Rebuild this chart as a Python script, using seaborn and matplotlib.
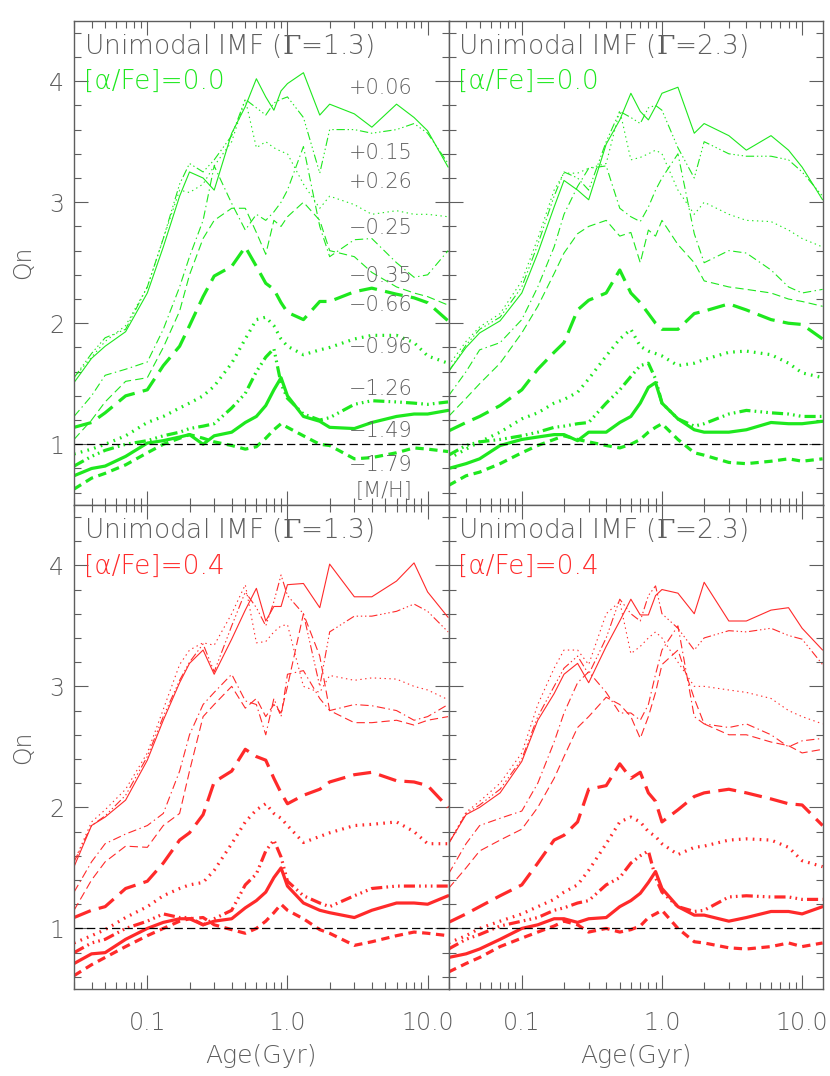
import os
import matplotlib
matplotlib.use('Agg')
import numpy as np
import seaborn as sns
import matplotlib.pyplot as plt
from matplotlib import font_manager as fm
from matplotlib.ticker import FixedLocator, NullFormatter

ages = [0.03, 0.04, 0.05, 0.07, 0.1, 0.13, 0.17, 0.2, 0.25, 0.3, 0.4, 0.5, 0.6,
        0.7, 0.8, 0.9, 1.0, 1.3, 1.7, 2.0, 3.0, 4.0, 6.0, 8.0, 10.0, 14.0]

mh_labels = ['+0.06', '+0.15', '+0.26', '\u22120.25', '\u22120.35',
             '\u22120.66', '\u22120.96', '\u22121.26', '\u22121.49', '\u22121.79']
mh_label_y = [3.94, 3.41, 3.17, 2.79, 2.39, 2.15, 1.80, 1.46, 1.11, 0.83]

gammas = ['1.3', '2.3']
alphafe = ['0.0', '0.4']

# Qn, Gamma=1.3, [a/Fe]=0.0  (one row per metallicity track)
qn_g13_a00 = [
    [1.51, 1.71, 1.81, 1.93, 2.25, 2.63, 3.05, 3.25, 3.20, 3.10, 3.57, 3.79, 4.02, 3.87, 3.76, 3.92, 3.98, 4.07, 3.72, 3.81, 3.73, 3.62, 3.81, 3.70, 3.59, 3.29],
    [1.55, 1.75, 1.88, 1.95, 2.30, 2.70, 3.15, 3.32, 3.25, 3.35, 3.55, 3.85, 3.78, 3.72, 3.82, 3.85, 3.87, 3.70, 3.24, 3.60, 3.60, 3.57, 3.60, 3.65, 3.57, 3.32],
    [1.55, 1.72, 1.85, 1.98, 2.30, 2.70, 3.10, 3.08, 3.15, 3.30, 3.50, 3.85, 3.45, 3.50, 3.45, 3.42, 3.40, 3.15, 2.95, 3.05, 2.98, 2.90, 2.93, 2.90, 2.90, 2.88],
    [1.23, 1.40, 1.57, 1.62, 1.68, 1.95, 2.30, 2.55, 2.85, 3.30, 2.99, 2.77, 2.90, 2.85, 2.92, 3.00, 3.10, 3.46, 2.80, 2.55, 2.69, 2.70, 2.50, 2.38, 2.40, 2.60],
    [1.04, 1.20, 1.35, 1.52, 1.55, 1.80, 2.10, 2.40, 2.70, 2.85, 2.95, 2.95, 2.75, 2.57, 2.85, 2.80, 2.88, 3.00, 2.85, 2.60, 2.55, 2.42, 2.30, 2.25, 2.22, 2.15],
    [1.14, 1.18, 1.26, 1.40, 1.45, 1.65, 1.81, 1.98, 2.22, 2.39, 2.47, 2.63, 2.47, 2.33, 2.28, 2.17, 2.09, 2.03, 2.18, 2.18, 2.26, 2.29, 2.24, 2.21, 2.17, 2.02],
    [0.92, 0.96, 1.00, 1.07, 1.18, 1.23, 1.30, 1.34, 1.40, 1.48, 1.67, 1.87, 2.03, 2.05, 1.98, 1.87, 1.81, 1.74, 1.78, 1.80, 1.87, 1.90, 1.90, 1.84, 1.73, 1.67],
    [0.82, 0.90, 0.95, 1.00, 1.03, 1.07, 1.10, 1.13, 1.15, 1.17, 1.30, 1.42, 1.60, 1.72, 1.79, 1.50, 1.38, 1.25, 1.20, 1.22, 1.33, 1.36, 1.35, 1.34, 1.33, 1.35],
    [0.74, 0.80, 0.82, 0.90, 1.01, 1.03, 1.06, 1.08, 1.00, 1.07, 1.10, 1.18, 1.23, 1.32, 1.45, 1.55, 1.40, 1.23, 1.19, 1.14, 1.13, 1.18, 1.23, 1.25, 1.25, 1.28],
    [0.63, 0.72, 0.76, 0.83, 0.93, 1.00, 1.05, 1.08, 1.05, 1.02, 0.99, 0.96, 0.98, 1.05, 1.12, 1.17, 1.14, 1.07, 1.00, 0.99, 0.88, 0.89, 0.93, 0.97, 0.96, 0.94],
]

# Qn, Gamma=2.3, [a/Fe]=0.0
qn_g23_a00 = [
    [1.60, 1.80, 1.92, 2.02, 2.25, 2.58, 2.96, 3.18, 3.10, 3.02, 3.48, 3.68, 3.90, 3.75, 3.68, 3.79, 3.90, 3.95, 3.57, 3.65, 3.55, 3.43, 3.55, 3.43, 3.29, 3.02],
    [1.60, 1.82, 1.95, 2.05, 2.30, 2.65, 3.05, 3.25, 3.20, 3.10, 3.50, 3.75, 3.70, 3.65, 3.78, 3.80, 3.76, 3.45, 3.20, 3.50, 3.40, 3.38, 3.38, 3.35, 3.25, 3.05],
    [1.65, 1.85, 1.97, 2.08, 2.35, 2.70, 3.10, 3.24, 3.24, 3.28, 3.32, 3.76, 3.35, 3.37, 3.40, 3.43, 3.40, 3.10, 2.90, 3.00, 2.90, 2.85, 2.84, 2.77, 2.70, 2.63],
    [1.40, 1.60, 1.78, 1.84, 2.03, 2.30, 2.63, 2.90, 3.13, 3.28, 3.30, 2.95, 2.88, 2.84, 2.96, 3.10, 3.20, 3.40, 2.74, 2.50, 2.60, 2.58, 2.44, 2.30, 2.25, 2.28],
    [1.23, 1.38, 1.50, 1.67, 1.92, 2.14, 2.41, 2.58, 2.74, 2.80, 2.85, 2.72, 2.75, 2.50, 2.77, 2.72, 2.85, 2.65, 2.50, 2.35, 2.30, 2.28, 2.25, 2.20, 2.18, 2.14],
    [1.11, 1.18, 1.23, 1.32, 1.45, 1.62, 1.76, 1.84, 2.11, 2.19, 2.25, 2.44, 2.25, 2.17, 2.08, 2.00, 1.95, 1.95, 2.08, 2.10, 2.16, 2.11, 2.03, 2.00, 1.99, 1.87],
    [0.88, 0.96, 1.02, 1.10, 1.21, 1.26, 1.34, 1.37, 1.43, 1.54, 1.73, 1.87, 1.95, 1.81, 1.77, 1.75, 1.73, 1.65, 1.67, 1.70, 1.76, 1.77, 1.74, 1.67, 1.59, 1.55],
    [0.91, 0.99, 1.02, 1.04, 1.07, 1.10, 1.14, 1.15, 1.17, 1.18, 1.34, 1.45, 1.56, 1.65, 1.67, 1.54, 1.34, 1.21, 1.15, 1.17, 1.25, 1.28, 1.26, 1.25, 1.23, 1.23],
    [0.80, 0.84, 0.88, 0.99, 1.04, 1.06, 1.08, 1.08, 1.03, 1.10, 1.10, 1.18, 1.23, 1.34, 1.47, 1.51, 1.34, 1.21, 1.12, 1.10, 1.10, 1.12, 1.18, 1.17, 1.17, 1.19],
    [0.66, 0.74, 0.77, 0.84, 0.93, 0.99, 1.04, 1.07, 1.04, 1.02, 0.99, 0.97, 1.00, 1.04, 1.10, 1.14, 1.17, 1.04, 0.93, 0.91, 0.85, 0.84, 0.86, 0.88, 0.86, 0.88],
]

# Qn, Gamma=1.3, [a/Fe]=0.4
qn_g13_a04 = [
    [1.51, 1.85, 1.92, 2.06, 2.39, 2.72, 3.03, 3.19, 3.30, 3.10, 3.39, 3.63, 3.81, 3.54, 3.66, 3.66, 3.84, 3.85, 3.65, 4.01, 3.74, 3.74, 3.87, 4.02, 3.78, 3.57],
    [1.55, 1.85, 1.93, 2.10, 2.42, 2.75, 3.05, 3.20, 3.35, 3.12, 3.50, 3.78, 3.65, 3.50, 3.70, 3.92, 3.75, 3.60, 3.00, 3.45, 3.58, 3.58, 3.62, 3.68, 3.62, 3.45],
    [1.55, 1.88, 1.98, 2.15, 2.45, 2.81, 3.18, 3.30, 3.36, 3.34, 3.60, 3.84, 3.36, 3.37, 3.45, 3.50, 3.51, 3.00, 2.95, 3.09, 3.05, 3.07, 3.06, 3.00, 2.97, 2.89],
    [1.30, 1.55, 1.70, 1.78, 1.85, 1.95, 2.30, 2.60, 2.85, 2.95, 3.10, 2.88, 2.85, 2.60, 2.90, 2.75, 3.10, 3.13, 2.90, 2.80, 2.85, 2.84, 2.80, 2.72, 2.75, 2.85],
    [1.15, 1.40, 1.55, 1.68, 1.67, 1.85, 1.95, 2.30, 2.75, 2.85, 3.00, 2.82, 2.90, 2.75, 2.85, 2.78, 3.00, 3.60, 3.25, 2.80, 2.70, 2.70, 2.72, 2.68, 2.72, 2.75],
    [1.09, 1.15, 1.18, 1.33, 1.39, 1.54, 1.73, 1.79, 1.94, 2.21, 2.30, 2.48, 2.42, 2.39, 2.24, 2.12, 2.03, 2.10, 2.15, 2.21, 2.27, 2.29, 2.22, 2.21, 2.18, 2.00],
    [0.88, 0.94, 0.99, 1.09, 1.18, 1.27, 1.33, 1.36, 1.38, 1.48, 1.70, 1.88, 1.98, 2.03, 1.95, 1.91, 1.85, 1.71, 1.76, 1.79, 1.85, 1.86, 1.88, 1.80, 1.70, 1.70],
    [0.80, 0.88, 0.91, 1.00, 1.06, 1.12, 1.09, 1.09, 1.03, 1.08, 1.15, 1.36, 1.45, 1.64, 1.73, 1.59, 1.39, 1.27, 1.21, 1.18, 1.27, 1.33, 1.35, 1.35, 1.35, 1.35],
    [0.71, 0.79, 0.80, 0.91, 1.00, 1.05, 1.08, 1.08, 1.03, 1.06, 1.08, 1.17, 1.23, 1.30, 1.42, 1.50, 1.35, 1.21, 1.15, 1.13, 1.09, 1.15, 1.21, 1.21, 1.20, 1.27],
    [0.61, 0.70, 0.76, 0.85, 0.94, 1.00, 1.06, 1.08, 1.09, 1.03, 0.99, 0.96, 1.00, 1.06, 1.13, 1.20, 1.15, 1.08, 0.99, 0.96, 0.86, 0.89, 0.94, 0.97, 0.96, 0.94],
]

# Qn, Gamma=2.3, [a/Fe]=0.4
qn_g23_a04 = [
    [1.70, 1.94, 2.00, 2.12, 2.38, 2.72, 2.94, 3.10, 3.19, 3.03, 3.33, 3.54, 3.72, 3.59, 3.59, 3.75, 3.80, 3.77, 3.60, 3.86, 3.54, 3.54, 3.63, 3.65, 3.48, 3.30],
    [1.70, 1.95, 2.02, 2.15, 2.40, 2.75, 3.00, 3.15, 3.25, 3.10, 3.40, 3.72, 3.60, 3.54, 3.75, 3.83, 3.60, 3.48, 3.30, 3.40, 3.46, 3.45, 3.48, 3.42, 3.39, 3.18],
    [1.70, 1.96, 2.05, 2.20, 2.45, 2.85, 3.15, 3.30, 3.30, 3.18, 3.60, 3.70, 3.27, 3.33, 3.40, 3.45, 3.40, 3.20, 3.00, 3.00, 2.97, 2.95, 2.90, 2.80, 2.75, 2.69],
    [1.45, 1.70, 1.85, 1.91, 1.97, 2.20, 2.54, 2.78, 3.03, 3.12, 2.95, 2.78, 2.78, 2.72, 2.85, 3.10, 3.30, 3.50, 2.75, 2.69, 2.66, 2.69, 2.60, 2.50, 2.55, 2.57],
    [1.33, 1.50, 1.64, 1.73, 1.82, 2.00, 2.24, 2.42, 2.66, 2.75, 2.91, 2.85, 2.75, 2.57, 2.75, 2.95, 3.18, 3.30, 2.90, 2.69, 2.60, 2.60, 2.54, 2.51, 2.45, 2.48],
    [1.05, 1.12, 1.18, 1.27, 1.36, 1.54, 1.73, 1.77, 1.88, 2.15, 2.18, 2.36, 2.24, 2.29, 2.12, 2.05, 1.88, 1.98, 2.09, 2.12, 2.15, 2.12, 2.07, 2.03, 2.02, 1.85],
    [0.88, 0.94, 1.00, 1.06, 1.12, 1.18, 1.24, 1.30, 1.36, 1.48, 1.70, 1.88, 1.92, 1.88, 1.80, 1.76, 1.70, 1.61, 1.67, 1.68, 1.73, 1.74, 1.73, 1.67, 1.56, 1.51],
    [0.83, 0.91, 0.95, 1.02, 1.06, 1.09, 1.15, 1.17, 1.21, 1.23, 1.36, 1.42, 1.54, 1.60, 1.64, 1.42, 1.30, 1.18, 1.14, 1.15, 1.26, 1.27, 1.26, 1.26, 1.24, 1.24],
    [0.76, 0.79, 0.83, 0.91, 1.00, 1.03, 1.08, 1.08, 1.05, 1.08, 1.09, 1.18, 1.23, 1.29, 1.38, 1.47, 1.33, 1.18, 1.11, 1.11, 1.06, 1.09, 1.14, 1.14, 1.12, 1.18],
    [0.64, 0.71, 0.76, 0.85, 0.92, 0.97, 1.02, 1.06, 1.03, 0.97, 1.00, 0.97, 0.99, 1.02, 1.09, 1.12, 1.15, 1.00, 0.89, 0.88, 0.84, 0.83, 0.85, 0.88, 0.85, 0.88],
]

# line style for each metallicity track: (linewidth, linestyle)
thin, thick = 0.8, 2.3
track_styles = [
    (thin, '-'),
    (thin, (0, (6, 2, 1, 2, 1, 2, 1, 2))),
    (thin, (0, (1, 2.5))),
    (thin, (0, (6, 2.5, 1, 2.5))),
    (thin, (0, (6, 3))),
    (thick, (0, (13, 6))),
    (thick, (0, (1.2, 3.8))),
    (thick, (0, (8, 3, 1.2, 3, 1.2, 3, 1.2, 3))),
    (thick, '-'),
    (thick, (0, (6, 4))),
]

green = '#1ee81e'
red = '#ff2a2a'
grey = '#5e5e5e'


def pick_light_family():
    # thin strokes like the original; use a light face if one is installed
    for fam in ['DejaVu Sans', 'Noto Sans', 'Open Sans']:
        try:
            path = fm.findfont(fm.FontProperties(family=fam, weight='light'),
                               fallback_to_default=False)
        except Exception:
            continue
        if 'light' in os.path.basename(path).lower():
            return fam, 'light'
    return 'DejaVu Sans', 'normal'


sns.set_style('ticks')
fam, weight = pick_light_family()
plt.rcParams['font.family'] = [fam, 'DejaVu Sans']
plt.rcParams['font.weight'] = weight
plt.rcParams['axes.labelweight'] = weight
plt.rcParams['mathtext.fontset'] = 'dejavuserif'
plt.rcParams['lines.scale_dashes'] = False

fig, axes = plt.subplots(2, 2, figsize=(8.3, 10.76), dpi=100, sharex=True, sharey=True)
fig.subplots_adjust(left=0.0892, right=0.9916, top=0.9808, bottom=0.0809,
                    wspace=0, hspace=0)

panels = [[qn_g13_a00, qn_g23_a00], [qn_g13_a04, qn_g23_a04]]
colors = [green, red]

minor_x = [0.03, 0.04, 0.05, 0.06, 0.07, 0.08, 0.09,
           0.2, 0.3, 0.4, 0.5, 0.6, 0.7, 0.8, 0.9,
           2, 3, 4, 5, 6, 7, 8, 9]

for r in range(2):
    for c in range(2):
        ax = axes[r, c]
        col = colors[r]
        for vals, (lw, ls) in zip(panels[r][c], track_styles):
            sns.lineplot(x=ages, y=vals, ax=ax, color=col, lw=lw, linestyle=ls,
                         legend=False, errorbar=None)
        ax.axhline(1.0, color='black', lw=0.9, linestyle=(0, (6, 3)))

        ax.set_xscale('log')
        ax.set_xlim(0.03, 14.1)
        ax.set_ylim(0.5, 4.5)
        ax.xaxis.set_major_locator(FixedLocator([0.1, 1.0, 10.0]))
        ax.xaxis.set_minor_locator(FixedLocator(minor_x))
        ax.xaxis.set_minor_formatter(NullFormatter())
        ax.set_xticklabels(['0.1', '1.0', '10.0'])
        ax.yaxis.set_major_locator(FixedLocator([1, 2, 3, 4]))
        ax.yaxis.set_minor_locator(FixedLocator(np.arange(0.6, 4.5, 0.2)))
        ax.tick_params(which='both', direction='in', top=True, right=True,
                       color=grey, labelcolor=grey, labelsize=17, width=0.8)
        ax.tick_params(which='major', length=10)
        ax.tick_params(which='minor', length=5)
        ax.tick_params(axis='x', which='major', pad=16)
        ax.tick_params(axis='y', which='major', pad=7)
        for sp in ax.spines.values():
            sp.set_color(grey)
            sp.set_linewidth(1.0)
        ax.set_xlabel('')
        ax.set_ylabel('')

        ax.annotate('Unimodal IMF ($\\Gamma$=' + gammas[c] + ')', xy=(0, 1),
                    xycoords='axes fraction', xytext=(7, -18), textcoords='offset points',
                    ha='left', va='center', fontsize=19, color=grey)
        ax.annotate('[\u03b1/Fe]=' + alphafe[r], xy=(0, 1),
                    xycoords='axes fraction', xytext=(7, -44), textcoords='offset points',
                    ha='left', va='center', fontsize=19, color=col)

# metallicity labels in the first panel
ax0 = axes[0, 0]
for lab, yv in zip(mh_labels, mh_label_y):
    ax0.text(0.904, yv, lab, transform=ax0.get_yaxis_transform(), ha='right',
             va='center', fontsize=15, color=grey)
ax0.text(0.904, 0.62, '[M/H]', transform=ax0.get_yaxis_transform(), ha='right',
         va='center', fontsize=15, color=grey)

for r in range(2):
    axes[r, 0].set_ylabel('Qn', fontsize=17, color=grey, labelpad=10)
for c in range(2):
    axes[1, c].set_xlabel('Age(Gyr)', fontsize=18, color=grey, labelpad=6)

fig.savefig('out.png', dpi=100)
